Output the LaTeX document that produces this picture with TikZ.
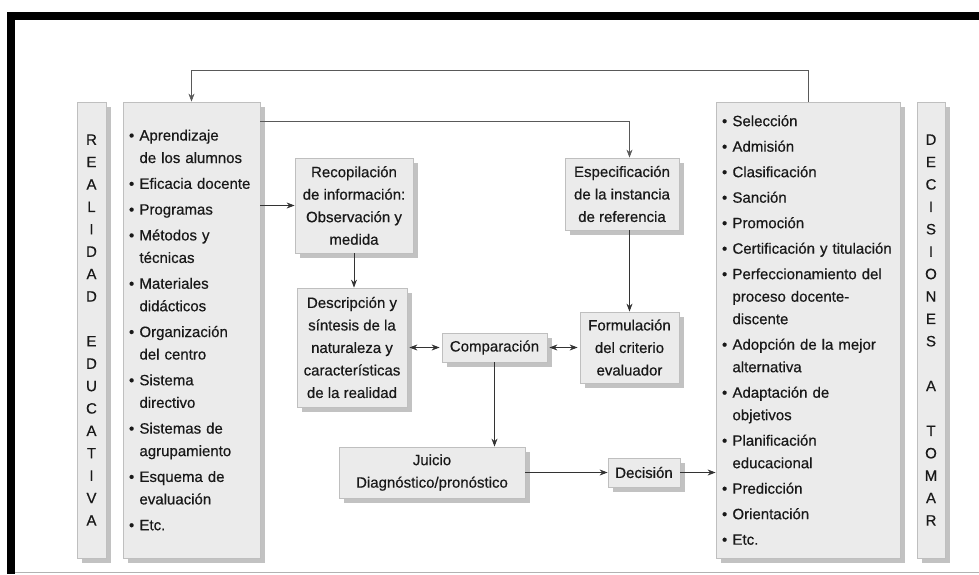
\documentclass[tikz,border=0pt]{standalone}
\usepackage{fontspec}
\setmainfont{Liberation Sans}[FakeBold=0.5]
\usetikzlibrary{arrows.meta,shadows}

% bullet and hanging indent for the lists
\newcommand{\vin}{\makebox[10.5pt][l]{\textbullet}}
\newcommand{\sang}{\hspace*{10.5pt}}

\tikzset{
  caja/.style={draw=gray!50, fill=gray!16, line width=0.8pt, text=black!90,
    drop shadow={shadow xshift=5pt, shadow yshift=-5pt, fill=black!48},
    align=center, inner sep=0pt, font=\fontsize{15}{22.5}\selectfont},
  lista/.style={caja, align=left, inner xsep=6pt},
  letras/.style={caja, font=\fontsize{15}{22.4}\selectfont},
  flecha/.style={-{Stealth[length=8pt,width=6pt]}, line width=0.9pt, draw=black!80},
  dflecha/.style={{Stealth[length=8pt,width=6pt]}-{Stealth[length=8pt,width=6pt]},
    line width=0.9pt, draw=black!80, shorten <=2pt, shorten >=2pt},
  fina/.style={flecha, line width=0.7pt, draw=black!65}
}

\begin{document}
\begin{tikzpicture}[x=1pt,y=-1pt]
\useasboundingbox (0,0) rectangle (979,574);
% frame
\fill[black] (7,12) rectangle (979,20);
\fill[black] (7,12) rectangle (15,574);
\draw[gray!60] (15,572) -- (979,572);

% left column
\node[letras, minimum width=29pt, minimum height=456pt] (realidad) at (91.5,330)
  {R\\E\\A\\L\\I\\D\\A\\D\\[22.4pt]E\\D\\U\\C\\A\\T\\I\\V\\A};
\node[lista, text width=125pt, minimum height=456pt] (reales) at (191.5,330)
  {\vin Aprendizaje\\
   \sang de los alumnos\\[3.3pt]
   \vin Eficacia docente\\[3.3pt]
   \vin Programas\\[3.3pt]
   \vin Métodos y\\
   \sang técnicas\\[3.3pt]
   \vin Materiales\\
   \sang didácticos\\[3.3pt]
   \vin Organización\\
   \sang del centro\\[3.3pt]
   \vin Sistema\\
   \sang directivo\\[3.3pt]
   \vin Sistemas de\\
   \sang agrupamiento\\[3.3pt]
   \vin Esquema de\\
   \sang evaluación\\[3.3pt]
   \vin Etc.};

% right column
\node[lista, text width=172pt, minimum height=456pt] (decis-lista) at (808,330)
  {\vin Selección\\[3pt]
   \vin Admisión\\[3pt]
   \vin Clasificación\\[3pt]
   \vin Sanción\\[3pt]
   \vin Promoción\\[3pt]
   \vin Certificación y titulación\\[3pt]
   \vin Perfeccionamiento del\\
   \sang proceso docente-\\
   \sang discente\\[3pt]
   \vin Adopción de la mejor\\
   \sang alternativa\\[3pt]
   \vin Adaptación de\\
   \sang objetivos\\[3pt]
   \vin Planificación\\
   \sang educacional\\[3pt]
   \vin Predicción\\[3pt]
   \vin Orientación\\[3pt]
   \vin Etc.};
\node[letras, minimum width=28pt, minimum height=456pt] (tomar) at (931,330)
  {D\\E\\C\\I\\S\\I\\O\\N\\E\\S\\[22.4pt]A\\[22.4pt]T\\O\\M\\A\\R};

% middle boxes
\node[caja, minimum width=118pt, minimum height=95pt] (recop) at (354,205.5)
  {Recopilación\\de información:\\Observación y\\medida};
\node[caja, minimum width=114pt, minimum height=72pt] (especif) at (622,194)
  {Especificación\\de la instancia\\de referencia};
\node[caja, minimum width=110pt, minimum height=119pt] (descrip) at (352,347.5)
  {Descripción y\\síntesis de la\\naturaleza y\\características\\de la realidad};
\node[caja, minimum width=105pt, minimum height=29pt] (compar) at (494.5,347.5)
  {Comparación};
\node[caja, minimum width=99pt, minimum height=71pt] (formul) at (629.5,347.5)
  {Formulación\\del criterio\\evaluador};
\node[caja, minimum width=186pt, minimum height=51pt] (juicio) at (432,472.5)
  {Juicio\\Diagnóstico/pronóstico};
\node[caja, minimum width=72pt, minimum height=29pt] (decision) at (644,472.5)
  {Decisión};

% connectors
\coordinate (arriba) at (0,70);
\draw[fina] (decis-lista.north) -- (decis-lista.north |- arriba) -| (reales.north);
\draw[fina] ([yshift=-20pt]reales.north east) -| (formul.north |- especif.north);
\draw[flecha] (reales.east |- recop.west) -- (recop.west);
\draw[flecha] (recop.south) -- (recop.south |- descrip.north);
\draw[flecha] (formul.north |- especif.south) -- (formul.north);
\draw[dflecha] (descrip.east) -- (compar.west);
\draw[dflecha] (compar.east) -- (formul.west);
\draw[flecha] (compar.south) -- (compar.south |- juicio.north);
\draw[flecha] (juicio.east) -- (decision.west);
\draw[flecha] (decision.east) -- (decision.east -| decis-lista.west);
\end{tikzpicture}
\end{document}
